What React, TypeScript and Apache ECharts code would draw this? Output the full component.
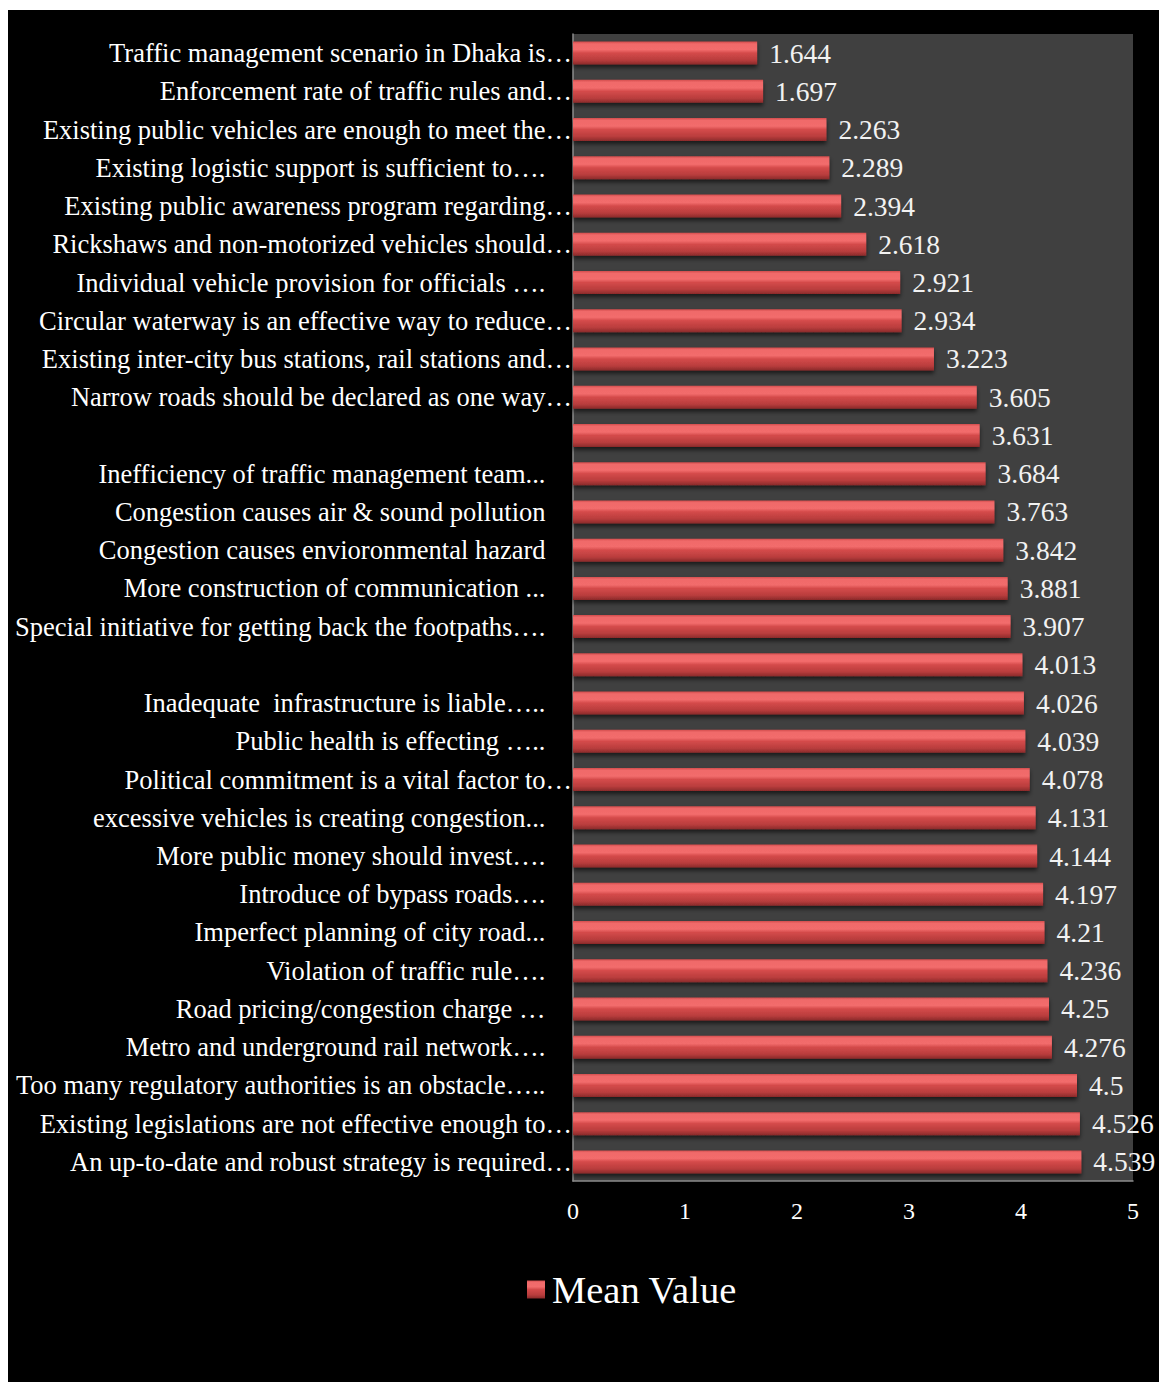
import React, { useEffect, useRef } from "react";
import * as echarts from "echarts";

const PAD = "\u00a0\u00a0\u00a0\u00a0";

const categories: string[] = [
  "Traffic management scenario in Dhaka is…",
  "Enforcement rate of traffic rules and…",
  "Existing public vehicles are enough to meet the…",
  "Existing logistic support is sufficient to…." + PAD,
  "Existing public awareness program regarding…",
  "Rickshaws and non-motorized vehicles should…",
  "Individual vehicle provision for officials …." + PAD,
  "Circular waterway is an effective way to reduce…",
  "Existing inter-city bus stations, rail stations and…",
  "Narrow roads should be declared as one way…",
  "",
  "Inefficiency of traffic management team..." + PAD,
  "Congestion causes air & sound pollution" + PAD,
  "Congestion causes envioronmental hazard" + PAD,
  "More construction of communication ..." + PAD,
  "Special initiative for getting back the footpaths…." + PAD,
  "",
  "Inadequate  infrastructure is liable….." + PAD,
  "Public health is effecting ….." + PAD,
  "Political commitment is a vital factor to…",
  "excessive vehicles is creating congestion..." + PAD,
  "More public money should invest…." + PAD,
  "Introduce of bypass roads…." + PAD,
  "Imperfect planning of city road..." + PAD,
  "Violation of traffic rule…." + PAD,
  "Road pricing/congestion charge …" + PAD,
  "Metro and underground rail network…." + PAD,
  "Too many regulatory authorities is an obstacle….." + PAD,
  "Existing legislations are not effective enough to…",
  "An up-to-date and robust strategy is required…",
];

const meanValues: number[] = [
  1.644, 1.697, 2.263, 2.289, 2.394, 2.618, 2.921, 2.934, 3.223, 3.605,
  3.631, 3.684, 3.763, 3.842, 3.881, 3.907, 4.013, 4.026, 4.039, 4.078,
  4.131, 4.144, 4.197, 4.21, 4.236, 4.25, 4.276, 4.5, 4.526, 4.539,
];

const seriesName = "Mean Value";
const FONT = "'Liberation Serif', 'Times New Roman', serif";

export default function App() {
  const ref = useRef<HTMLDivElement>(null);
  useEffect(() => {
    if (!ref.current) return;
    const chart = echarts.init(ref.current, undefined, { renderer: "svg" });
    const barGrad = new echarts.graphic.LinearGradient(0, 0, 0, 1, [
      { offset: 0, color: "#d24c4c" },
      { offset: 0.1, color: "#f06a6a" },
      { offset: 0.35, color: "#f26c6c" },
      { offset: 0.5, color: "#d44a4a" },
      { offset: 0.8, color: "#b93d3d" },
      { offset: 1, color: "#8a2a2a" },
    ]);
    chart.setOption({
      animation: false,
      backgroundColor: "#000000",
      textStyle: { fontFamily: FONT },
      grid: {
        left: 565,
        top: 24,
        right: 26,
        bottom: 201,
        show: true,
        backgroundColor: "#404040",
        borderWidth: 0,
        outerBoundsMode: "none",
        containLabel: false,
      },
      legend: {
        data: [seriesName],
        bottom: 68,
        left: 514,
        icon: "rect",
        itemWidth: 18,
        itemHeight: 18,
        textStyle: { color: "#ffffff", fontSize: 38.5, fontFamily: FONT, padding: [0, 0, 0, 2] },
      },
      xAxis: {
        type: "value",
        min: 0,
        max: 5,
        interval: 1,
        splitLine: { show: false },
        axisLine: { show: true, lineStyle: { color: "#8c8c8c", width: 1.5 } },
        axisTick: { show: false },
        axisLabel: { color: "#ffffff", fontSize: 24, margin: 18, fontFamily: FONT },
      },
      yAxis: {
        type: "category",
        inverse: true,
        data: categories,
        axisLine: { show: true, lineStyle: { color: "#8c8c8c", width: 1.5 } },
        axisTick: { show: false },
        axisLabel: {
          color: "#ffffff",
          fontSize: 26.5,
          margin: 1,
          fontFamily: FONT,
          interval: 0,
        },
      },
      series: [
        {
          name: seriesName,
          type: "bar",
          data: meanValues,
          barWidth: 23,
          itemStyle: {
            color: barGrad,
            shadowColor: "rgba(0,0,0,0.6)",
            shadowBlur: 4,
            shadowOffsetY: 3,
          },
          label: {
            show: true,
            position: "right",
            distance: 12,
            color: "#f2f2f2",
            fontSize: 27.5,
            fontFamily: FONT,
            formatter: (p: any) => String(p.value),
          },
        },
      ],
    });
    return () => chart.dispose();
  }, []);
  return (
    <div
      ref={ref}
      style={{ position: "absolute", left: 8, top: 10, width: 1151, height: 1372 }}
    />
  );
}
